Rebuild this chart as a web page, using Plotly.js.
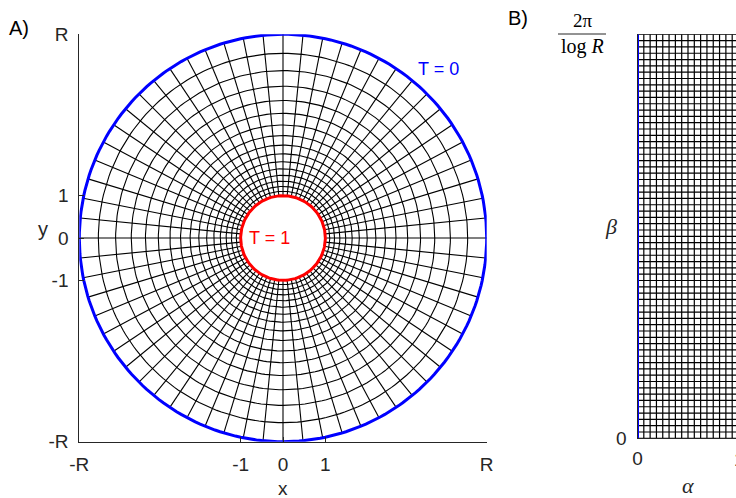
<!DOCTYPE html>
<html>
<head>
<meta charset="utf-8">
<script src="https://cdn.plot.ly/plotly-3.0.1.min.js"></script>
<style>html,body{margin:0;padding:0;background:#fff}</style>
</head>
<body>
<div id="chart" style="width:736px;height:498px"></div>
<script>
// ---- chart parameters (conformal map of an annulus onto a rectangle) ----
const logR = Math.PI / 2;            // log R, so 2*pi/log R = 4
const R = Math.exp(logR);            // outer radius (about 4.81)
const nCircles = 16;                 // subdivisions in the radial / alpha direction
const nRays = 64;                    // subdivisions in the angular / beta direction
const betaMax = 2 * Math.PI / logR;  // top of the rectangle

// tick labels
const xTickValsA = [-R, -1, 0, 1, R];
const xTickTextA = ['-R', '-1', '0', '1', 'R'];
const yTickValsA = [-R, -1, 0, 1, R];
const yTickTextA = ['-R', '-1', '0', '1', 'R'];
const xTickValsB = [0];
const xTickTextB = ['0'];
const yTickValsB = [0];
const yTickTextB = ['0'];

// boundary temperatures
const innerLabel = 'T = 1';
const outerLabel = 'T = 0';

// ---- build the grid from the parameters ----
const circleLevels = [];   // radii r = R^(k/nCircles)
for (let k = 0; k <= nCircles; k++) circleLevels.push(Math.pow(R, k / nCircles));
const rayAngles = [];      // theta = 2 pi j / nRays
for (let j = 0; j < nRays; j++) rayAngles.push(2 * Math.PI * j / nRays);
const alphaLevels = [];    // alpha = 1 - log r / log R
for (let k = 0; k <= nCircles; k++) alphaLevels.push(k / nCircles);
const betaLevels = [];     // beta = theta / log R
for (let j = 0; j <= nRays; j++) betaLevels.push(betaMax * j / nRays);

const NSEG = 240;
function circle(r) {
  const xs = [], ys = [];
  for (let i = 0; i <= NSEG; i++) {
    const t = 2 * Math.PI * i / NSEG;
    xs.push(r * Math.cos(t)); ys.push(r * Math.sin(t));
  }
  return [xs, ys];
}

// panel A grid
const gAx = [], gAy = [];
circleLevels.slice(1, -1).forEach(r => {
  const [xs, ys] = circle(r);
  gAx.push(...xs, null); gAy.push(...ys, null);
});
rayAngles.forEach(t => {
  gAx.push(Math.cos(t), R * Math.cos(t), null);
  gAy.push(Math.sin(t), R * Math.sin(t), null);
});
const [outerX, outerY] = circle(R);
const [innerX, innerY] = circle(1);

// panel B grid
const gBx = [], gBy = [];
alphaLevels.forEach(a => { gBx.push(a, a, null); gBy.push(0, betaMax, null); });
betaLevels.forEach(b => { gBx.push(0, 1, null); gBy.push(b, b, null); });

const black = '#000000', axc = '#262626';
const sans = 'Liberation Sans, Arial, sans-serif';
const serif = 'Liberation Serif, Times New Roman, serif';

const traces = [
  {x: gAx, y: gAy, xaxis: 'x', yaxis: 'y', mode: 'lines', line: {color: black, width: 1.1}, hoverinfo: 'skip', showlegend: false},
  {x: outerX, y: outerY, xaxis: 'x', yaxis: 'y', mode: 'lines', line: {color: '#0000ff', width: 3}, hoverinfo: 'skip', showlegend: false},
  {x: innerX, y: innerY, xaxis: 'x', yaxis: 'y', mode: 'lines', line: {color: '#ff0000', width: 3}, hoverinfo: 'skip', showlegend: false},
  {x: gBx, y: gBy, xaxis: 'x2', yaxis: 'y2', mode: 'lines', line: {color: black, width: 1.2}, hoverinfo: 'skip', showlegend: false},
  {x: [0, 0], y: [0, betaMax], xaxis: 'x2', yaxis: 'y2', mode: 'lines', line: {color: '#0000ff', width: 3}, hoverinfo: 'skip', showlegend: false},
  {x: [1, 1], y: [0, betaMax], xaxis: 'x2', yaxis: 'y2', mode: 'lines', line: {color: '#ff0000', width: 3}, hoverinfo: 'skip', showlegend: false}
];

const W = 736, H = 498;
const px = v => v / W;
const py = v => (H - v) / H;

const axBase = {
  showline: true, linecolor: axc, linewidth: 1, mirror: false,
  ticks: 'inside', ticklen: 5, tickwidth: 1, tickcolor: axc,
  showgrid: false, zeroline: false, fixedrange: true, automargin: false,
  tickfont: {family: sans, size: 19, color: axc}
};

const bScale = 101; // px per unit in panel B
const layout = {
  width: W, height: H,
  margin: {l: 0, r: 0, t: 0, b: 0, pad: 0},
  paper_bgcolor: '#ffffff', plot_bgcolor: '#ffffff',
  showlegend: false,
  xaxis: Object.assign({}, axBase, {domain: [px(79.3), px(486.7)], range: [-R, R], anchor: 'y',
    tickmode: 'array', tickvals: xTickValsA, ticktext: xTickTextA, ticklabelstandoff: 5}),
  yaxis: Object.assign({}, axBase, {domain: [py(441.7), py(34.3)], range: [-R, R], anchor: 'x',
    tickmode: 'array', tickvals: yTickValsA, ticktext: yTickTextA, ticklabelstandoff: 6}),
  xaxis2: Object.assign({}, axBase, {domain: [px(637.5), 1], range: [0, (W - 637.5) / bScale], anchor: 'y2',
    tickmode: 'array', tickvals: xTickValsB, ticktext: xTickTextB, ticklabelstandoff: 3}),
  yaxis2: Object.assign({}, axBase, {domain: [py(438.3), py(34.3)], range: [0, betaMax], anchor: 'x2',
    tickmode: 'array', tickvals: yTickValsB, ticktext: yTickTextB, ticklabelstandoff: 6}),
  shapes: [
    {type: 'line', xref: 'paper', yref: 'paper', x0: px(558), x1: px(606), y0: py(34), y1: py(34), line: {color: axc, width: 1}}
  ],
  annotations: [
    {text: 'A)', xref: 'paper', yref: 'paper', x: px(19), y: py(28), showarrow: false, xanchor: 'center', yanchor: 'middle', font: {family: sans, size: 20, color: '#000'}},
    {text: 'B)', xref: 'paper', yref: 'paper', x: px(518), y: py(18), showarrow: false, xanchor: 'center', yanchor: 'middle', font: {family: sans, size: 20, color: '#000'}},
    {text: 'x', xref: 'paper', yref: 'paper', x: px(283), y: 0, showarrow: false, xanchor: 'center', yanchor: 'bottom', yshift: -3, font: {family: sans, size: 19, color: axc}},
    {text: 'y', xref: 'paper', yref: 'paper', x: px(43), y: py(229), showarrow: false, xanchor: 'center', yanchor: 'middle', font: {family: sans, size: 20, color: axc}},
    {text: outerLabel, xref: 'x', yref: 'y', x: 3.68, y: 3.98, showarrow: false, xanchor: 'center', yanchor: 'middle', font: {family: sans, size: 18, color: '#0000ff'}},
    {text: innerLabel, xref: 'x', yref: 'y', x: -0.85, y: 0, showarrow: false, xanchor: 'left', yanchor: 'middle', font: {family: sans, size: 18, color: '#ff0000'}},
    {text: '<i>β</i>', xref: 'paper', yref: 'paper', x: px(611), y: py(226), showarrow: false, xanchor: 'center', yanchor: 'middle', font: {family: serif, size: 22, color: axc}},
    {text: '<i>α</i>', xref: 'paper', yref: 'paper', x: px(688), y: py(485), showarrow: false, xanchor: 'center', yanchor: 'middle', font: {family: serif, size: 22, color: axc}},
    {text: '2π', xref: 'paper', yref: 'paper', x: px(583), y: py(20), showarrow: false, xanchor: 'center', yanchor: 'middle', font: {family: serif, size: 19, color: '#000'}},
    {text: 'log <i>R</i>', xref: 'paper', yref: 'paper', x: px(582), y: py(47), showarrow: false, xanchor: 'center', yanchor: 'middle', font: {family: serif, size: 20, color: '#000'}},
    {text: '1', xref: 'paper', yref: 'paper', x: px(739), y: py(459), showarrow: false, xanchor: 'center', yanchor: 'middle', font: {family: sans, size: 19, color: axc}}
  ]
};

Plotly.newPlot('chart', traces, layout, {displayModeBar: false, staticPlot: true});
</script>
</body>
</html>
